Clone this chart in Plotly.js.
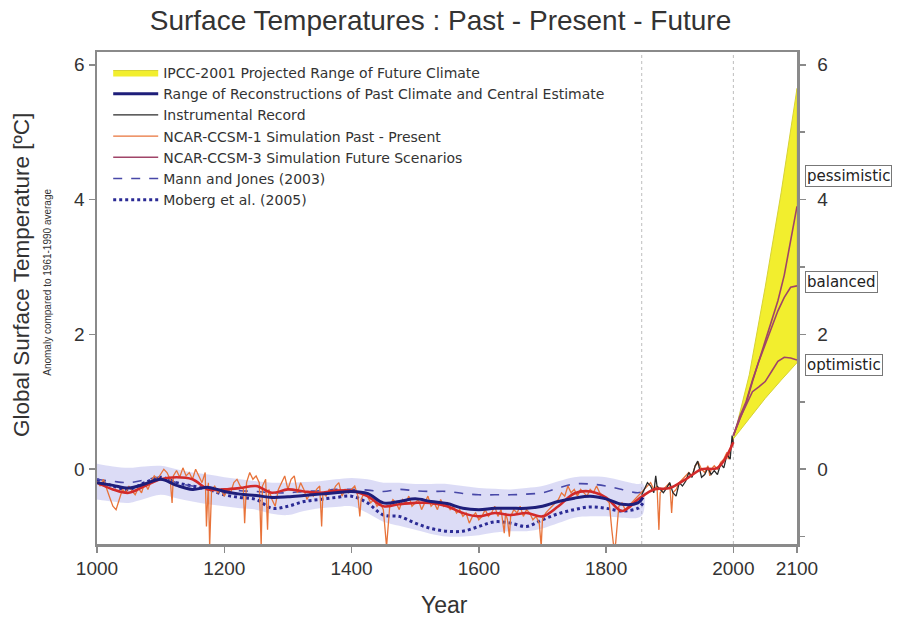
<!DOCTYPE html>
<html>
<head>
<meta charset="utf-8">
<script src="https://cdn.plot.ly/plotly-3.0.1.min.js"></script>
<style>html,body{margin:0;padding:0;background:#fff;}#chart{width:899px;height:617px;}</style>
</head>
<body>
<div id="chart"></div>
<script>
// ---- Data ----
const reconYears = [1000,1025,1050,1075,1100,1125,1150,1175,1200,1225,1250,1275,1300,1325,1350,1375,1400,1425,1450,1475,1500,1525,1550,1575,1600,1625,1650,1675,1700,1725,1750,1775,1800,1825,1850,1858];
const centralEstimate = [-0.20,-0.24,-0.28,-0.22,-0.15,-0.24,-0.30,-0.27,-0.33,-0.37,-0.39,-0.42,-0.41,-0.39,-0.37,-0.35,-0.33,-0.36,-0.50,-0.48,-0.44,-0.48,-0.51,-0.58,-0.60,-0.58,-0.58,-0.58,-0.55,-0.48,-0.43,-0.40,-0.44,-0.52,-0.50,-0.42];
const mannJones = [-0.15,-0.18,-0.20,-0.16,-0.12,-0.20,-0.25,-0.27,-0.30,-0.32,-0.33,-0.35,-0.35,-0.33,-0.32,-0.30,-0.30,-0.31,-0.33,-0.30,-0.32,-0.33,-0.33,-0.36,-0.38,-0.38,-0.38,-0.37,-0.35,-0.28,-0.22,-0.22,-0.25,-0.30,-0.35,-0.33];
const moberg = [-0.15,-0.25,-0.30,-0.20,-0.12,-0.20,-0.25,-0.30,-0.38,-0.42,-0.45,-0.58,-0.55,-0.48,-0.45,-0.42,-0.40,-0.50,-0.68,-0.70,-0.80,-0.88,-0.92,-0.92,-0.85,-0.78,-0.80,-0.85,-0.75,-0.66,-0.60,-0.56,-0.58,-0.62,-0.58,-0.50];
const bandUpper = [0.08,0.04,0.02,0.04,0.05,0.00,-0.05,-0.08,-0.12,-0.15,-0.18,-0.20,-0.20,-0.19,-0.18,-0.15,-0.13,-0.15,-0.20,-0.20,-0.22,-0.22,-0.22,-0.25,-0.28,-0.29,-0.30,-0.28,-0.25,-0.18,-0.12,-0.11,-0.12,-0.17,-0.22,-0.22];
const bandLower = [-0.45,-0.48,-0.50,-0.44,-0.38,-0.43,-0.48,-0.52,-0.55,-0.58,-0.60,-0.66,-0.68,-0.62,-0.58,-0.56,-0.55,-0.65,-0.78,-0.84,-0.90,-0.96,-1.00,-1.00,-0.98,-0.94,-0.92,-0.92,-0.88,-0.80,-0.72,-0.70,-0.70,-0.72,-0.72,-0.66];

const sim1SmoothYears = [1000,1025,1050,1075,1100,1125,1150,1175,1200,1225,1250,1275,1300,1325,1350,1375,1400,1425,1450,1475,1500,1525,1550,1575,1600,1625,1650,1675,1700,1725,1750,1775,1800,1825,1850,1875,1900,1925,1950,1975,2000];
const sim1Smooth = [-0.20,-0.30,-0.35,-0.25,-0.15,-0.12,-0.15,-0.30,-0.30,-0.28,-0.25,-0.35,-0.30,-0.33,-0.35,-0.32,-0.32,-0.40,-0.55,-0.52,-0.50,-0.50,-0.55,-0.65,-0.70,-0.65,-0.68,-0.65,-0.70,-0.55,-0.36,-0.33,-0.42,-0.62,-0.45,-0.30,-0.28,-0.15,0.00,0.02,0.40];

const sim1Years = [1000,1005,1010,1015,1020,1025,1030,1035,1040,1045,1050,1055,1060,1065,1070,1075,1080,1085,1090,1095,1100,1105,1110,1115,1118,1120,1125,1130,1135,1140,1145,1150,1155,1160,1165,1170,1172,1175,1177,1180,1185,1190,1195,1200,1205,1210,1215,1220,1225,1230,1232,1235,1240,1245,1250,1255,1258,1260,1265,1268,1270,1275,1280,1285,1290,1295,1300,1305,1310,1315,1320,1325,1330,1335,1340,1345,1350,1353,1355,1360,1365,1370,1375,1380,1385,1390,1395,1400,1405,1410,1413,1415,1420,1425,1430,1435,1440,1445,1450,1455,1458,1460,1465,1470,1475,1480,1485,1490,1495,1500,1505,1510,1515,1520,1525,1530,1535,1540,1545,1550,1555,1560,1565,1570,1575,1580,1585,1590,1595,1600,1605,1610,1615,1620,1625,1630,1635,1640,1642,1645,1648,1650,1655,1660,1665,1670,1675,1680,1685,1690,1695,1698,1700,1705,1710,1715,1720,1725,1730,1735,1740,1745,1750,1755,1760,1765,1770,1775,1780,1785,1790,1795,1800,1805,1809,1812,1815,1818,1820,1825,1830,1835,1840,1845,1850,1855,1860,1865,1870,1875,1880,1883,1885,1890,1895,1900,1903,1905,1910,1915,1920,1925,1930,1935,1940,1945,1950,1955,1960,1963,1965,1970,1975,1980,1985,1990,1992,1995,2000];
const sim1Values = [-0.18,-0.25,-0.15,-0.30,-0.42,-0.55,-0.60,-0.45,-0.30,-0.35,-0.25,-0.32,-0.38,-0.28,-0.35,-0.20,-0.30,-0.18,-0.10,-0.15,-0.08,0.00,-0.05,-0.15,-0.50,-0.10,-0.02,-0.12,0.02,-0.10,-0.05,-0.15,0.00,-0.10,-0.20,-0.05,-0.85,-0.20,-1.15,-0.30,-0.25,-0.35,-0.30,-0.40,-0.30,-0.35,-0.20,-0.15,-0.25,-0.30,-0.80,-0.20,-0.05,-0.15,-0.10,-0.20,-1.15,-0.25,-0.15,-0.90,-0.30,-0.45,-0.55,-0.30,-0.20,-0.10,-0.30,-0.15,-0.10,-0.35,-0.20,-0.30,-0.45,-0.35,-0.40,-0.30,-0.25,-0.85,-0.35,-0.40,-0.30,-0.35,-0.25,-0.20,-0.40,-0.30,-0.35,-0.30,-0.25,-0.40,-0.70,-0.45,-0.35,-0.40,-0.50,-0.45,-0.55,-0.50,-0.60,-1.15,-0.70,-0.55,-0.45,-0.50,-0.60,-0.45,-0.50,-0.40,-0.55,-0.50,-0.45,-0.60,-0.50,-0.40,-0.55,-0.50,-0.60,-0.45,-0.55,-0.50,-0.60,-0.55,-0.65,-0.60,-0.70,-0.65,-0.80,-0.70,-0.65,-0.75,-0.70,-0.60,-0.70,-0.65,-0.55,-0.70,-0.60,-0.95,-0.65,-0.75,-1.00,-0.70,-0.60,-0.65,-0.55,-0.70,-0.60,-0.65,-0.75,-0.70,-0.80,-1.15,-0.75,-0.65,-0.60,-0.55,-0.50,-0.45,-0.35,-0.40,-0.25,-0.35,-0.30,-0.40,-0.30,-0.35,-0.40,-0.30,-0.35,-0.25,-0.35,-0.40,-0.45,-0.50,-0.90,-1.15,-1.10,-0.70,-0.55,-0.50,-0.60,-0.55,-0.50,-0.45,-0.40,-0.35,-0.30,-0.25,-0.20,-0.30,-0.25,-0.90,-0.35,-0.30,-0.25,-0.20,-0.65,-0.35,-0.30,-0.20,-0.15,-0.10,-0.05,-0.10,0.05,0.10,0.00,-0.05,0.05,-0.10,0.00,0.05,0.00,0.10,0.15,0.25,0.15,0.30,0.45];

const instYears = [1856,1860,1865,1870,1875,1878,1880,1885,1890,1895,1900,1905,1910,1915,1920,1925,1930,1935,1940,1944,1950,1955,1960,1965,1970,1975,1980,1985,1990,1995,1998,2000];
const instValues = [-0.38,-0.30,-0.20,-0.25,-0.35,-0.10,-0.25,-0.30,-0.35,-0.28,-0.20,-0.35,-0.40,-0.20,-0.25,-0.18,-0.05,-0.12,0.05,0.12,-0.12,-0.08,0.02,-0.08,-0.02,-0.08,0.08,0.02,0.22,0.15,0.50,0.38];

const futureYears = [2000,2010,2020,2030,2040,2050,2060,2070,2080,2090,2100];
const pessimistic = [0.50,0.75,0.98,1.30,1.60,1.88,2.20,2.50,2.88,3.38,3.90];
const balanced = [0.50,0.78,1.00,1.32,1.60,1.85,2.08,2.35,2.55,2.70,2.72];
const optimistic = [0.50,0.75,0.95,1.15,1.22,1.30,1.45,1.60,1.66,1.65,1.62];

const ipccYears = [2000,2025,2050,2075,2100];
const ipccLower = [0.45,0.75,1.05,1.32,1.58];
const ipccUpper = [0.45,1.40,2.70,4.10,5.65];

const legendNames = [
  'IPCC-2001 Projected Range of Future Climate',
  'Range of Reconstructions of Past Climate and Central Estimate',
  'Instrumental Record',
  'NCAR-CCSM-1 Simulation Past - Present',
  'NCAR-CCSM-3 Simulation Future Scenarios',
  'Mann and Jones (2003)',
  'Moberg et al. (2005)'
];
const scenarioLabels = ['pessimistic','balanced','optimistic'];
const scenarioLabelY = [4.35, 2.78, 1.54];
const xTicks = [1000,1200,1400,1600,1800,2000,2100];
const yTicks = [0,2,4,6];
const markerYears = [1856, 2000];

// ---- Traces ----
const traces = [];
traces.push({
  x: reconYears.concat(reconYears.slice().reverse()),
  y: bandUpper.concat(bandLower.slice().reverse()),
  type: 'scatter', mode: 'lines', fill: 'toself',
  fillcolor: 'rgba(185,185,238,0.5)', line: {width: 0, shape: 'spline'},
  showlegend: false, hoverinfo: 'skip'
});
traces.push({
  x: ipccYears.concat(ipccYears.slice().reverse()),
  y: ipccUpper.concat(ipccLower.slice().reverse()),
  type: 'scatter', mode: 'lines', fill: 'toself',
  fillcolor: '#f2ee2e', line: {width: 1, color: '#d6d236'},
  name: legendNames[0], legendrank: 1
});
traces.push({
  x: reconYears, y: moberg, type: 'scatter', mode: 'lines',
  line: {color: '#2b2b95', width: 3, dash: 'dot', shape: 'spline'},
  name: legendNames[6], legendrank: 7
});
traces.push({
  x: reconYears, y: mannJones, type: 'scatter', mode: 'lines',
  line: {color: '#4848a8', width: 1.6, dash: 'dash', shape: 'spline'},
  name: legendNames[5], legendrank: 6
});
traces.push({
  x: sim1Years, y: sim1Values, type: 'scatter', mode: 'lines',
  line: {color: '#e8733a', width: 1.3},
  name: legendNames[3], legendrank: 4
});
traces.push({
  x: instYears, y: instValues, type: 'scatter', mode: 'lines',
  line: {color: '#2a2a2a', width: 1.3},
  name: legendNames[2], legendrank: 3
});
traces.push({
  x: sim1SmoothYears, y: sim1Smooth, type: 'scatter', mode: 'lines',
  line: {color: '#d22a2a', width: 2.6, shape: 'spline'},
  showlegend: false, hoverinfo: 'skip'
});
traces.push({
  x: reconYears, y: centralEstimate, type: 'scatter', mode: 'lines',
  line: {color: '#1e1e7a', width: 3, shape: 'spline'},
  name: legendNames[1], legendrank: 2
});
[pessimistic, balanced, optimistic].forEach(function (s, i) {
  traces.push({
    x: futureYears, y: s, type: 'scatter', mode: 'lines',
    line: {color: '#a04468', width: 1.6},
    name: legendNames[4], legendrank: 5, legendgroup: 'ccsm3', showlegend: i === 0
  });
});
// right axis carrier
traces.push({x: [2100], y: [0], yaxis: 'y2', type: 'scatter', mode: 'markers',
  marker: {opacity: 0}, showlegend: false, hoverinfo: 'skip'});

const yRange = [-1.11, 6.19];
const shapes = markerYears.map(function (yr) {
  return {type: 'line', xref: 'x', yref: 'paper', x0: yr, x1: yr, y0: 0, y1: 1,
    line: {color: '#bdbdbd', width: 1, dash: 'dot'}, layer: 'below'};
});

const annotations = [];
scenarioLabels.forEach(function (t, i) {
  annotations.push({text: t, xref: 'paper', yref: 'y', x: 1.012, y: scenarioLabelY[i],
    xanchor: 'left', yanchor: 'middle', showarrow: false,
    font: {family: 'DejaVu Sans', size: 15, color: '#222'},
    bordercolor: '#777', borderwidth: 1, borderpad: 1, bgcolor: '#fff'});
});
annotations.push({text: 'Global Surface Temperature [ºC]', xref: 'paper', yref: 'paper',
  x: -0.107, y: 0.547, textangle: -90, showarrow: false, xanchor: 'center', yanchor: 'middle',
  font: {family: 'Liberation Sans, Arial, sans-serif', size: 22.5, color: '#333'}});
annotations.push({text: 'Anomaly compared to 1961-1990 average', xref: 'paper', yref: 'paper',
  x: -0.07, y: 0.533, textangle: -90, showarrow: false, xanchor: 'center', yanchor: 'middle',
  font: {family: 'Liberation Sans, Arial, sans-serif', size: 10, color: '#333'}});
annotations.push({text: 'Year', xref: 'paper', yref: 'paper', x: 0.497, y: -0.124,
  showarrow: false, xanchor: 'center', yanchor: 'middle',
  font: {family: 'Liberation Sans, Arial, sans-serif', size: 23, color: '#333'}});

const axisCommon = {
  showgrid: false, zeroline: false, showline: true, linecolor: '#8a8a8a', linewidth: 2.5,
  ticks: 'outside', ticklen: 6, tickwidth: 1.5, tickcolor: '#8a8a8a',
  tickfont: {family: 'Liberation Sans, Arial, sans-serif', size: 19, color: '#333'}
};

const layout = {
  width: 899, height: 617,
  margin: {l: 97, r: 102, t: 52, b: 73},
  paper_bgcolor: '#fff', plot_bgcolor: '#fff',
  font: {family: 'Liberation Sans, Arial, sans-serif', color: '#333'},
  title: {text: 'Surface Temperatures : Past - Present - Future', x: 0.49, xanchor: 'center',
    y: 0.967, yanchor: 'middle', font: {size: 28, color: '#333'}},
  xaxis: Object.assign({}, axisCommon, {range: [1000, 2100], tickvals: xTicks, mirror: true}),
  yaxis: Object.assign({}, axisCommon, {range: yRange, tickvals: yTicks, mirror: true}),
  yaxis2: Object.assign({}, axisCommon, {range: yRange, tickvals: yTicks, overlaying: 'y', side: 'right',
    ticklabelstandoff: 8,
    minor: {tickvals: [-1,1,3,5], ticks: 'outside', ticklen: 5, tickcolor: '#8a8a8a', tickwidth: 1.5}}),
  legend: {x: 0.016, y: 0.99, xanchor: 'left', yanchor: 'top', bgcolor: 'rgba(0,0,0,0)',
    font: {family: 'DejaVu Sans', size: 14, color: '#333'}, itemwidth: 45, tracegroupgap: 0, traceorder: 'normal'},
  shapes: shapes,
  annotations: annotations,
  showlegend: true
};

Plotly.newPlot('chart', traces, layout, {displayModeBar: false, staticPlot: true});
</script>
</body>
</html>
